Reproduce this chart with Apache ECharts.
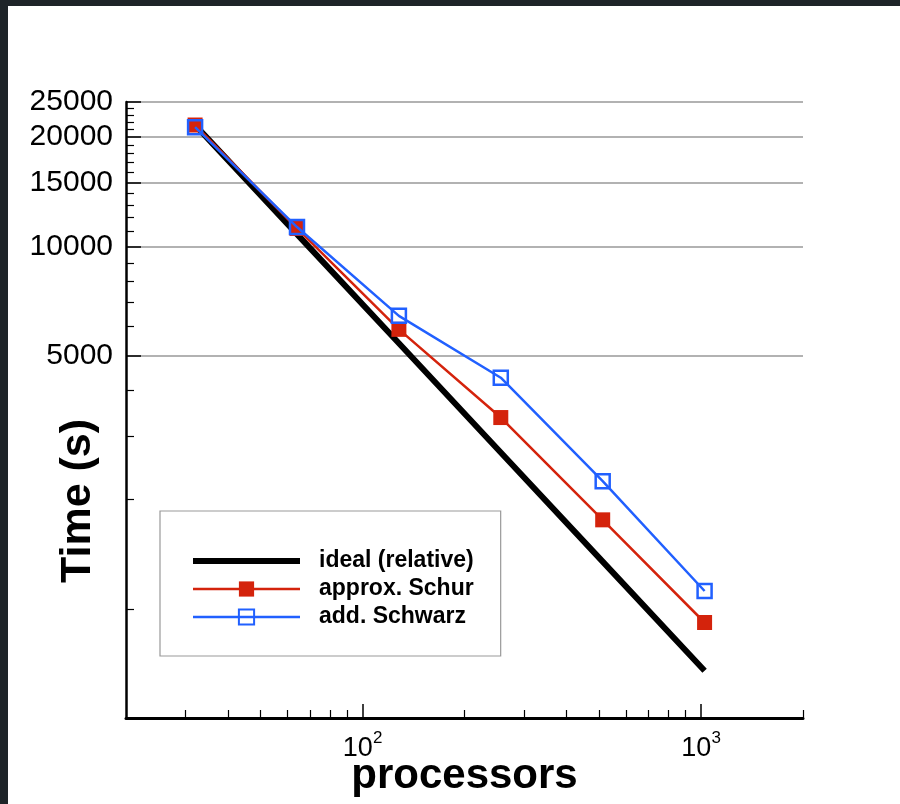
<!DOCTYPE html>
<html>
<head>
<meta charset="utf-8">
<script src="https://cdn.jsdelivr.net/npm/echarts@6/dist/echarts.min.js"></script>
<style>
  html, body { margin: 0; padding: 0; background: #fff; }
  #chart { width: 900px; height: 804px; }
</style>
</head>
<body>
<div id="chart"></div>
<script>
// Run time vs. processor count (log-log)
const processors  = [32, 64, 128, 256, 512, 1024];
const idealTime   = [21600, 10800, 5400, 2700, 1350, 675];
const schurTime   = [21600, 11200, 5900, 3370, 1760, 917];
const schwarzTime = [21300, 11300, 6430, 4340, 2250, 1120];

const seriesNames = ['ideal (relative)', 'approx. Schur', 'add. Schwarz'];

// axis ticks
const yMajorTicks = [5000, 10000, 15000, 20000, 25000];
const yMinorTicks = [1000, 2000, 3000, 4000, 6000, 7000, 8000, 9000,
                     11000, 12000, 13000, 14000, 16000, 17000, 18000, 19000,
                     21000, 22000, 23000, 24000];
const xMajorTicks = [100, 1000];
const xMinorTicks = [30, 40, 50, 60, 70, 80, 90, 200, 300, 400, 500, 600, 700, 800, 900, 2000];

const FONT = 'Liberation Sans, Arial, Helvetica, sans-serif';
const RED = '#d4230c';
const BLUE = '#2160ff';

const pairs = ys => processors.map((p, i) => [p, ys[i]]);

const chart = echarts.init(document.getElementById('chart'), null, { renderer: 'canvas' });

const xCommon = { type: 'log', logBase: 10, min: 20, max: 2000, gridIndex: 0 };
const yCommon = { type: 'log', logBase: 10, min: 500, max: 25000, gridIndex: 0 };

chart.setOption({
  animation: false,
  backgroundColor: '#fff',
  grid: { left: 126, right: 97, top: 102, bottom: 86, containLabel: false, outerBoundsMode: 'none' },
  xAxis: [
    Object.assign({}, xCommon, {
      position: 'bottom',
      name: 'processors',
      nameLocation: 'middle',
      nameGap: 37,
      nameMoveOverlap: false,
      nameTextStyle: { fontFamily: FONT, fontWeight: 'bold', fontSize: 42, color: '#000',
                       verticalAlign: 'top' },
      axisLine: { show: true, lineStyle: { color: '#000', width: 3 } },
      axisTick: { show: true, inside: true, length: 14, customValues: xMajorTicks,
                  lineStyle: { color: '#000', width: 1.5 } },
      axisLabel: {
        show: true, margin: 12, customValues: xMajorTicks,
        formatter: v => '{b|10}{s|' + Math.round(Math.log10(v)) + '}',
        rich: {
          b: { fontFamily: FONT, fontSize: 27, color: '#000', verticalAlign: 'bottom', lineHeight: 32 },
          s: { fontFamily: FONT, fontSize: 17, color: '#000', verticalAlign: 'top', lineHeight: 32 }
        }
      },
      splitLine: { show: false },
      minorTick: { show: false }
    }),
    Object.assign({}, xCommon, {
      position: 'bottom',
      axisLine: { show: false },
      axisTick: { show: true, inside: true, length: 8, customValues: xMinorTicks,
                  lineStyle: { color: '#000', width: 1.2 } },
      axisLabel: { show: false },
      splitLine: { show: false }
    })
  ],
  yAxis: [
    Object.assign({}, yCommon, {
      position: 'left',
      axisLine: { show: true, lineStyle: { color: '#000', width: 2.5 } },
      axisTick: { show: true, inside: true, length: 15, customValues: yMajorTicks,
                  lineStyle: { color: '#000', width: 1.5 } },
      axisLabel: {
        show: true, margin: 13, customValues: yMajorTicks,
        fontFamily: FONT, fontSize: 30, color: '#000',
        formatter: v => String(Math.round(v))
      },
      splitLine: { show: true, lineStyle: { color: '#999', width: 1.5 } }
    }),
    Object.assign({}, yCommon, {
      position: 'left',
      offset: 0,
      axisLine: { show: false },
      axisTick: { show: true, inside: true, length: 8, customValues: yMinorTicks,
                  lineStyle: { color: '#000', width: 1.2 } },
      axisLabel: { show: false },
      splitLine: { show: false }
    })
  ],
  legend: {
    orient: 'vertical',
    left: 160,
    top: 511,
    padding: [38, 27, 27, 30],
    borderColor: '#999',
    borderWidth: 1.2,
    backgroundColor: '#fff',
    itemWidth: 107,
    itemHeight: 19,
    itemGap: 4,
    selectedMode: false,
    textStyle: { fontFamily: FONT, fontWeight: 'bold', fontSize: 23, color: '#000',
                 lineHeight: 24, padding: [0, 0, 0, 14] },
    data: [
      { name: seriesNames[0], itemStyle: { opacity: 0 }, lineStyle: { width: 6, color: '#000' } },
      { name: seriesNames[1], lineStyle: { width: 2.5 } },
      { name: seriesNames[2], lineStyle: { width: 2.5 } }
    ]
  },
  series: [
    {
      name: seriesNames[0], type: 'line', xAxisIndex: 0, yAxisIndex: 0,
      data: pairs(idealTime),
      symbol: 'none', color: '#000',
      lineStyle: { color: '#000', width: 6 },
      z: 2
    },
    {
      name: seriesNames[1], type: 'line', xAxisIndex: 0, yAxisIndex: 0,
      data: pairs(schurTime),
      symbol: 'rect', symbolSize: 15, color: RED,
      itemStyle: { color: RED },
      lineStyle: { color: RED, width: 2.5 },
      z: 3
    },
    {
      name: seriesNames[2], type: 'line', xAxisIndex: 0, yAxisIndex: 0,
      data: pairs(schwarzTime),
      symbol: 'rect', symbolSize: 14, color: BLUE,
      itemStyle: { color: 'rgba(0,0,0,0)', borderColor: BLUE, borderWidth: 2.5 },
      lineStyle: { color: BLUE, width: 2.5 },
      z: 4
    }
  ],
  graphic: [
    { type: 'rect', shape: { x: 0, y: 0, width: 8, height: 804 }, style: { fill: '#1e2428' }, silent: true },
    { type: 'rect', shape: { x: 0, y: 0, width: 900, height: 6 }, style: { fill: '#1e2428' }, silent: true },
    {
      type: 'text', x: 78, y: 501, rotation: Math.PI / 2,
      style: { text: 'Time (s)', fontFamily: FONT, fontWeight: 'bold', fontSize: 43,
               fill: '#000', align: 'center', verticalAlign: 'middle' }
    }
  ]
});
</script>
</body>
</html>
